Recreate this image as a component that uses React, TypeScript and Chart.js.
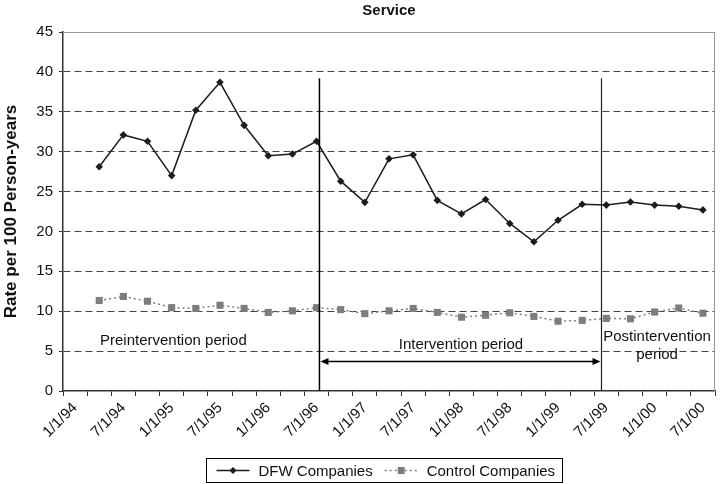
import React, { useEffect, useRef } from "react";
import { Chart, registerables } from "chart.js";

Chart.register(...registerables);

const quarters = [
  "1/1/94", "4/1/94", "7/1/94", "10/1/94",
  "1/1/95", "4/1/95", "7/1/95", "10/1/95",
  "1/1/96", "4/1/96", "7/1/96", "10/1/96",
  "1/1/97", "4/1/97", "7/1/97", "10/1/97",
  "1/1/98", "4/1/98", "7/1/98", "10/1/98",
  "1/1/99", "4/1/99", "7/1/99", "10/1/99",
  "1/1/00", "4/1/00", "7/1/00",
];

const tickLabels = [
  "1/1/94", "7/1/94", "1/1/95", "7/1/95", "1/1/96", "7/1/96", "1/1/97",
  "7/1/97", "1/1/98", "7/1/98", "1/1/99", "7/1/99", "1/1/00", "7/1/00",
];

const dfwRates = [
  null, 28.1, 32.1, 31.3, 27.0, 35.2, 38.7, 33.3, 29.5, 29.7, 31.3, 26.3, 23.65,
  29.1, 29.6, 23.9, 22.2, 24.0, 21.0, 18.7, 21.4, 23.4, 23.3, 23.7, 23.3, 23.15, 22.7,
];

const controlRates = [
  null, 11.35, 11.85, 11.25, 10.45, 10.35, 10.75, 10.35, 9.85, 10.05, 10.45, 10.2, 9.7,
  10.05, 10.35, 9.85, 9.25, 9.5, 9.8, 9.35, 8.75, 8.85, 9.1, 9.05, 9.9, 10.4, 9.75,
];

const seriesNames = ["DFW Companies", "Control Companies"];
const periodNames = ["Preintervention period", "Intervention period", "Postintervention", "period"];

const FONT = "'Liberation Sans', Arial, Helvetica, sans-serif";
const DFW_COLOR = "#1c1c1c";
const CTRL_COLOR = "#7d7d7d";

const periodsPlugin = {
  id: "periods",
  beforeDatasetsDraw(chart: any) {
    const { ctx, chartArea: a } = chart;
    ctx.save();
    ctx.strokeStyle = "#9a9a9a";
    ctx.lineWidth = 1;
    ctx.beginPath();
    ctx.moveTo(a.left, a.top + 0.5);
    ctx.lineTo(a.right, a.top + 0.5);
    ctx.moveTo(a.right - 0.5, a.top);
    ctx.lineTo(a.right - 0.5, a.bottom);
    ctx.stroke();
    ctx.restore();
  },
  afterDatasetsDraw(chart: any) {
    const { ctx } = chart;
    const xs = chart.scales.x;
    const ys = chart.scales.y;
    const x1 = xs.getPixelForValue(10.12);
    const x2 = xs.getPixelForValue(21.8);
    const yTop = ys.getPixelForValue(39.2);
    const yBot = ys.getPixelForValue(0);
    ctx.save();
    ctx.strokeStyle = "#000";
    ctx.lineWidth = 1.5;
    ctx.beginPath();
    ctx.moveTo(x1, yTop);
    ctx.lineTo(x1, yBot);
    ctx.stroke();
    ctx.strokeStyle = "#222";
    ctx.lineWidth = 1.2;
    ctx.beginPath();
    ctx.moveTo(x2, yTop);
    ctx.lineTo(x2, yBot);
    ctx.stroke();

    // double arrow
    const ya = Math.round(ys.getPixelForValue(3.7)) + 0.5;
    ctx.strokeStyle = "#000";
    ctx.lineWidth = 1.5;
    ctx.beginPath();
    ctx.moveTo(x1 + 6, ya);
    ctx.lineTo(x2 - 6, ya);
    ctx.stroke();
    ctx.fillStyle = "#000";
    ctx.beginPath();
    ctx.moveTo(x1 + 1, ya);
    ctx.lineTo(x1 + 9, ya - 3.5);
    ctx.lineTo(x1 + 9, ya + 3.5);
    ctx.closePath();
    ctx.fill();
    ctx.beginPath();
    ctx.moveTo(x2 - 1, ya);
    ctx.lineTo(x2 - 9, ya - 3.5);
    ctx.lineTo(x2 - 9, ya + 3.5);
    ctx.closePath();
    ctx.fill();

    // period labels
    ctx.font = `15px ${FONT}`;
    ctx.fillStyle = "#111";
    ctx.textAlign = "center";
    ctx.textBaseline = "middle";
    ctx.fillText(periodNames[0], xs.getPixelForValue(4.07), ys.getPixelForValue(6.3));
    ctx.fillText(periodNames[1], xs.getPixelForValue(15.98), ys.getPixelForValue(5.8));
    ctx.fillText(periodNames[2], xs.getPixelForValue(24.1), ys.getPixelForValue(6.8));
    ctx.fillText(periodNames[3], xs.getPixelForValue(24.1), ys.getPixelForValue(4.5));
    ctx.restore();
  },
  afterDraw(chart: any) {
    const { ctx, chartArea: a } = chart;
    ctx.save();
    ctx.font = `15px ${FONT}`;
    const w1 = ctx.measureText(seriesNames[0]).width;
    const w2 = ctx.measureText(seriesNames[1]).width;
    const lineLen = 33;
    const padL = 10, gapLT = 9, gapItems = 12, padR = 7;
    const boxW = padL + lineLen + gapLT + w1 + gapItems + lineLen + gapLT + w2 + padR;
    const boxH = 24;
    const cx = (a.left + a.right) / 2 - 5;
    const left = Math.round(cx - boxW / 2) + 0.5;
    const top = chart.height - 25.5;
    ctx.strokeStyle = "#000";
    ctx.lineWidth = 1;
    ctx.strokeRect(left, top, Math.round(boxW), boxH);
    const cy = top + boxH / 2;

    // item 1
    let x = left + padL;
    ctx.strokeStyle = DFW_COLOR;
    ctx.lineWidth = 1.5;
    ctx.beginPath();
    ctx.moveTo(x, cy);
    ctx.lineTo(x + lineLen, cy);
    ctx.stroke();
    ctx.fillStyle = DFW_COLOR;
    const dx = x + lineLen / 2;
    ctx.beginPath();
    ctx.moveTo(dx, cy - 3.5);
    ctx.lineTo(dx + 3.5, cy);
    ctx.lineTo(dx, cy + 3.5);
    ctx.lineTo(dx - 3.5, cy);
    ctx.closePath();
    ctx.fill();
    x += lineLen + gapLT;
    ctx.fillStyle = "#111";
    ctx.textAlign = "left";
    ctx.textBaseline = "middle";
    ctx.fillText(seriesNames[0], x, cy + 1);
    x += w1 + gapItems;

    // item 2
    ctx.strokeStyle = CTRL_COLOR;
    ctx.lineWidth = 1.5;
    ctx.setLineDash([2, 3]);
    ctx.beginPath();
    ctx.moveTo(x, cy);
    ctx.lineTo(x + lineLen, cy);
    ctx.stroke();
    ctx.setLineDash([]);
    ctx.fillStyle = CTRL_COLOR;
    const sx = x + lineLen / 2;
    ctx.fillRect(sx - 3.5, cy - 3.5, 7, 7);
    x += lineLen + gapLT;
    ctx.fillStyle = "#111";
    ctx.fillText(seriesNames[1], x, cy + 1);
    ctx.restore();
  },
};

export default function App() {
  const canvasRef = useRef<HTMLCanvasElement | null>(null);

  useEffect(() => {
    document.body.style.margin = "0";
    const canvas = canvasRef.current;
    if (!canvas) return;
    const chart = new Chart(canvas, {
      type: "line",
      data: {
        labels: quarters,
        datasets: [
          {
            label: seriesNames[0],
            data: dfwRates,
            borderColor: DFW_COLOR,
            backgroundColor: DFW_COLOR,
            borderWidth: 1.5,
            pointStyle: "rectRot",
            pointRadius: 3.8,
            pointBorderWidth: 0,
            pointBackgroundColor: DFW_COLOR,
            tension: 0,
            spanGaps: false,
          },
          {
            label: seriesNames[1],
            data: controlRates,
            borderColor: CTRL_COLOR,
            backgroundColor: CTRL_COLOR,
            borderWidth: 1.5,
            borderDash: [2, 3],
            pointStyle: "rect",
            pointRadius: 5,
            pointBorderWidth: 0,
            pointBackgroundColor: CTRL_COLOR,
            tension: 0,
          },
        ],
      },
      options: {
        responsive: false,
        animation: false,
        devicePixelRatio: 1,
        layout: { padding: { top: 0, left: 0, right: 1, bottom: 36 } },
        plugins: {
          legend: { display: false },
          tooltip: { enabled: false },
          title: {
            display: true,
            text: "Service",
            fullSize: false,
            color: "#111",
            font: { family: FONT, size: 15, weight: "bold" },
            padding: { top: 2, bottom: 12 },
          },
        },
        scales: {
          x: {
            type: "category",
            offset: true,
            afterFit: (scale: any) => {
              scale.height = 57;
              scale.paddingLeft = 0;
              scale.paddingRight = 0;
            },
            grid: {
              offset: true,
              drawOnChartArea: false,
              drawTicks: true,
              tickLength: 5,
              color: "#333",
              tickColor: "#333",
            },
            border: { display: true, color: "#333", width: 1.5 },
            ticks: {
              autoSkip: false,
              maxRotation: 45,
              minRotation: 45,
              padding: 3,
              color: "#111",
              font: { family: FONT, size: 15 },
              callback: (_v: any, index: number) =>
                tickLabels.includes(quarters[index]) ? quarters[index] : "",
            },
          },
          y: {
            min: 0,
            max: 45,
            afterFit: (scale: any) => {
              scale.width = 63;
              scale.paddingTop = 0;
              scale.paddingBottom = 0;
            },
            ticks: {
              stepSize: 5,
              padding: 6,
              color: "#111",
              font: { family: FONT, size: 15 },
            },
            grid: {
              color: (c: any) =>
                c.tick && (c.tick.value === 0 || c.tick.value === 45) ? "rgba(0,0,0,0)" : "#444",
              lineWidth: 1,
              tickLength: 4,
              tickColor: "#333",
              tickBorderDash: [],
            },
            border: { display: true, color: "#333", width: 1.5, dash: [7, 4] },
            title: {
              display: true,
              text: "Rate per 100 Person-years",
              color: "#111",
              font: { family: FONT, size: 17, weight: "bold" },
              padding: { top: 1, bottom: 0 },
            },
          },
        },
      },
      plugins: [periodsPlugin],
    });
    return () => chart.destroy();
  }, []);

  return (
    <div style={{ width: 720, height: 484 }}>
      <canvas ref={canvasRef} width={720} height={484} style={{ display: "block" }} />
    </div>
  );
}
